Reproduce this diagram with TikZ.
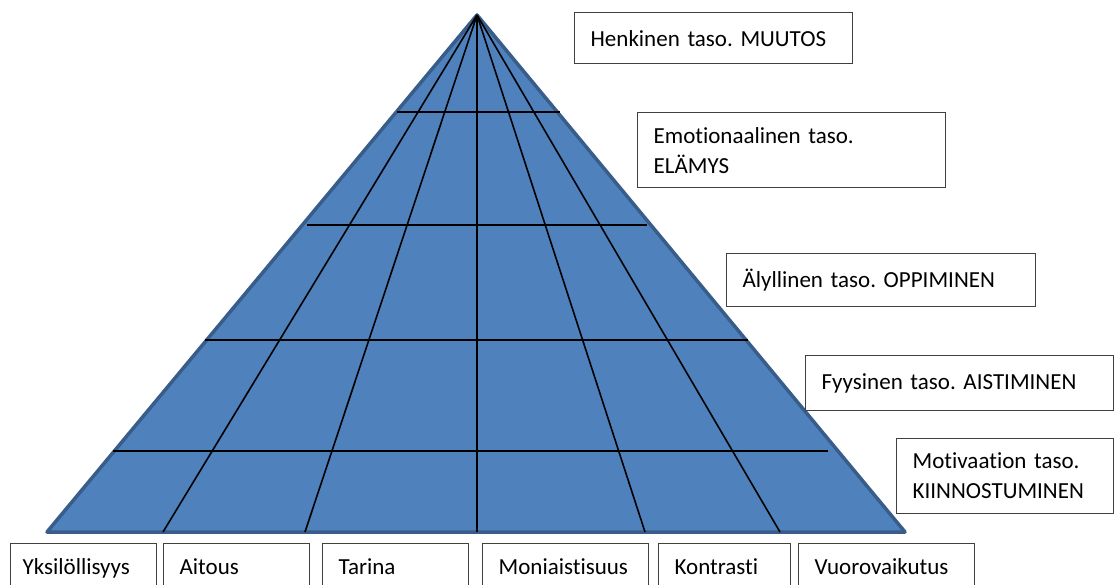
\documentclass[tikz,border=0pt]{standalone}
\usepackage{fontspec}
\setmainfont{Carlito}[Ligatures={NoCommon}]
\definecolor{pyrfill}{RGB}{79,129,189}
\definecolor{pyredge}{RGB}{56,93,138}
\frenchspacing
\begin{document}
\begin{tikzpicture}[x=1pt,y=-1pt,
  lvl/.style={draw=black!75, line width=1.3pt, fill=white, anchor=north west,
    inner xsep=16pt, inner ysep=0pt, align=left,
    font=\fontsize{23}{30}\selectfont},
  cell/.style={lvl, minimum height=46pt, text height=18pt, text depth=3pt},
  gridline/.style={line width=1.6pt, black},
  centerline/.style={line width=2.6pt, black},
  pyr/.style={fill=pyrfill, draw=pyredge, line width=3.5pt, line join=round},
]
\useasboundingbox (0,0) rectangle (1117,585);
\coordinate (apex) at (477,15);
\coordinate (bl) at (47,532);
\coordinate (br) at (905,532);
\path[pyr] (apex) -- (br) -- (bl) -- cycle;
% radial base points
\coordinate (b1) at (163,532);
\coordinate (b2) at (305,532);
\coordinate (b3) at (477,532);
\coordinate (b4) at (645,532);
\coordinate (b5) at (780,532);
% horizontal line ends
\coordinate (h1l) at (397,112); \coordinate (h1r) at (560,112);
\coordinate (h2l) at (307,225); \coordinate (h2r) at (647,225);
\coordinate (h3l) at (205,340); \coordinate (h3r) at (748,340);
\coordinate (h4l) at (113,451); \coordinate (h4r) at (828,451);
\draw[gridline] (h1l) -- (h1r);
\draw[gridline] (h2l) -- (h2r);
\draw[gridline] (h3l) -- (h3r);
\draw[gridline] (h4l) -- (h4r);
\draw[gridline] (apex) -- (b1);
\draw[gridline] (apex) -- (b2);
\draw[centerline] (apex) -- (b3);
\draw[gridline] (apex) -- (b4);
\draw[gridline] (apex) -- (b5);
% level boxes
\node[lvl, minimum width=278pt, minimum height=51pt, text width=246pt] (l5) at (574,12) {Henkinen taso. MUUTOS};
\node[lvl, minimum width=308pt, minimum height=75pt, text width=276pt] (l4) at (637,112) {Emotionaalinen taso.\\ELÄMYS};
\node[lvl, minimum width=309pt, minimum height=53pt, text width=277pt] (l3) at (726,253) {Älyllinen taso. OPPIMINEN};
\node[lvl, minimum width=308pt, minimum height=55pt, text width=276pt] (l2) at (805,355) {Fyysinen taso. AISTIMINEN};
\node[lvl, minimum width=217pt, minimum height=75pt, text width=185pt] (l1) at (896,438) {Motivaation taso.\\KIINNOSTUMINEN};
% bottom boxes
\node[cell, inner xsep=12pt, minimum width=146pt, text width=122pt] (c1) at (10,543) {Yksilöllisyys};
\node[cell, minimum width=146pt, text width=114pt] (c2) at (163,543) {Aitous};
\node[cell, minimum width=146pt, text width=114pt] (c3) at (322,543) {Tarina};
\node[cell, minimum width=166pt, text width=134pt] (c4) at (482,543) {Moniaistisuus};
\node[cell, minimum width=132pt, text width=100pt] (c5) at (658,543) {Kontrasti};
\node[cell, minimum width=176pt, text width=144pt] (c6) at (798,543) {Vuorovaikutus};
\end{tikzpicture}
\end{document}
